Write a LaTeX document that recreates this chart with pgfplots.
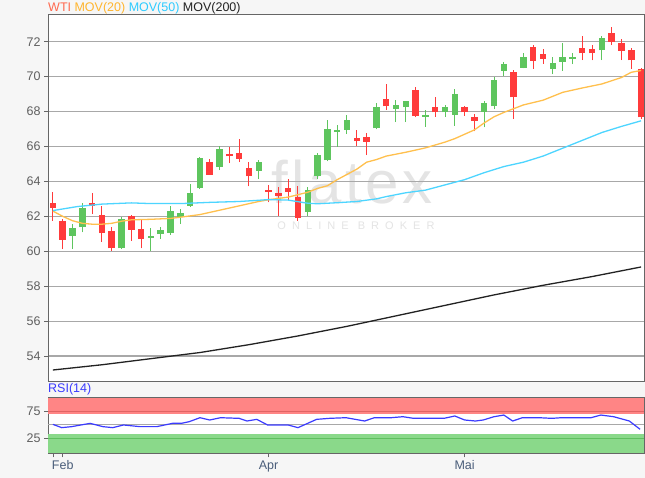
\documentclass[border=0pt]{standalone}
\usepackage{pgfplots}
\pgfplotsset{compat=1.18}
\usepackage{pgfplotstable}
\usepackage{fontspec}
\setmainfont{Liberation Sans}
\newfontfamily\wmbig[LetterSpace=6]{Liberation Sans}
\newfontfamily\wmsmall[LetterSpace=55]{Liberation Sans}

\definecolor{bggray}{HTML}{F6F6F6}
\definecolor{gridgray}{HTML}{A8A8A8}
\definecolor{framegray}{HTML}{666666}
\definecolor{labgray}{HTML}{606060}
\definecolor{xlab}{HTML}{4A5D7A}
\definecolor{candred}{HTML}{FF3B3B}
\definecolor{candgreen}{HTML}{5EC55E}
\definecolor{ma20}{HTML}{FFC04D}
\definecolor{ma50}{HTML}{4DD5FF}
\definecolor{ma200}{HTML}{222222}
\definecolor{legwti}{HTML}{FF6A50}
\definecolor{leg20}{HTML}{FFB52E}
\definecolor{leg50}{HTML}{2ECBFF}
\definecolor{rsiblue}{HTML}{3B3BFF}
\definecolor{rsired}{HTML}{FF8585}
\definecolor{rsiredline}{HTML}{E06464}
\definecolor{rsigreen}{HTML}{8AD98A}
\definecolor{rsigreenline}{HTML}{5FBF5F}
\definecolor{wmgray}{HTML}{E4E4E4}

% candles: index, open, high, low, close
\pgfplotstableread{
i o h l c
2 60.88 61.56 60.12 61.33
3 61.37 62.77 61.08 62.46
7 60.17 61.94 60.12 61.85
10 60.77 61.33 60.02 60.87
11 60.98 61.40 60.70 61.20
12 61.05 62.57 60.95 62.30
13 61.97 62.40 61.55 62.18
14 62.60 63.88 62.54 63.35
15 63.60 65.42 63.56 65.33
17 64.81 66.00 64.65 65.87
21 64.62 65.23 64.13 65.10
26 62.27 63.67 62.04 63.48
27 64.29 65.60 64.15 65.50
28 65.21 67.52 65.15 66.98
29 66.82 67.23 65.98 66.92
30 66.94 67.80 66.71 67.52
33 67.03 68.48 66.98 68.25
35 68.15 68.67 67.39 68.40
36 68.25 68.60 67.39 68.59
38 67.71 68.10 67.14 67.83
40 67.96 68.38 67.68 68.25
41 67.83 69.30 67.20 69.00
44 68.00 68.62 67.09 68.47
45 68.30 69.97 68.12 69.83
46 70.33 70.81 70.06 70.73
48 70.52 71.38 70.48 71.11
51 70.46 71.12 70.15 70.80
52 70.86 71.94 70.34 71.12
53 71.03 71.37 70.72 71.12
56 71.50 72.32 70.95 72.23
}\upcandles

\pgfplotstableread{
i o h l c
0 62.77 63.38 61.75 62.48
1 61.75 61.85 60.12 60.65
4 62.77 63.35 62.13 62.58
5 62.08 62.62 60.54 61.04
6 61.17 61.40 60.02 60.17
8 62.00 62.05 60.60 61.23
9 61.27 61.85 60.17 60.69
16 65.10 65.29 64.37 64.38
18 65.58 65.96 65.04 65.44
19 65.62 66.44 65.10 65.29
20 64.75 65.10 63.71 64.29
22 63.50 63.80 62.80 63.40
23 63.35 63.67 62.04 63.19
24 63.63 64.15 62.90 63.38
25 63.13 63.71 61.75 61.90
31 66.46 66.94 66.02 66.31
32 66.56 66.79 65.50 66.27
34 68.72 69.58 68.10 68.29
37 69.24 69.43 67.68 67.77
39 68.25 68.82 67.71 67.96
42 68.25 68.34 67.77 67.96
43 67.68 67.87 66.86 67.45
47 70.24 70.37 67.57 68.81
49 71.67 71.82 70.46 70.90
50 71.28 71.56 70.74 71.03
54 71.66 72.32 70.95 71.33
55 71.56 71.81 70.93 71.33
57 72.51 72.84 71.81 72.00
58 71.94 72.13 70.95 71.47
59 71.52 71.66 70.46 70.93
60 70.42 70.51 67.56 67.66
}\downcandles

\pgfplotstableread{
i v
0 62.30
1 62.00
2 61.75
3 61.60
4 61.55
5 61.55
6 61.60
7 61.72
8 61.80
10 61.83
12 61.88
13 61.95
15 62.10
17 62.35
19 62.60
21 62.85
22 62.95
24 63.10
26 63.38
27 63.60
28 63.75
29 64.10
31 64.70
32 65.10
33 65.25
34 65.45
36 65.67
38 65.92
40 66.25
41 66.45
43 66.95
44 67.35
45 67.70
46 67.95
48 68.38
50 68.65
52 69.10
54 69.35
56 69.58
58 69.95
59 70.25
60 70.35
}\movtwenty

\pgfplotstableread{
i v
0 62.33
2.5 62.56
5 62.70
8 62.77
10 62.73
13 62.73
16 62.80
19 62.85
21 62.92
22 62.96
24 62.93
26 62.75
27 62.72
29 62.78
31 62.85
33 63.00
34 63.13
36 63.35
38 63.50
40 63.80
42 64.10
44 64.50
46 64.85
48 65.10
50 65.45
52 65.90
54 66.35
56 66.80
58 67.15
60 67.47
}\movfifty

\pgfplotstableread{
i v
0 53.20
5 53.50
10 53.85
15 54.20
20 54.65
25 55.15
30 55.70
35 56.30
40 56.90
45 57.50
50 58.05
55 58.55
60 59.10
}\movtwohundred

\pgfplotstableread{
i v
0 51.2
0.9 45.0
1.9 46.9
3.8 53.1
5.1 46.9
6.1 45.0
7.2 50.0
8.9 46.9
10.6 46.9
12.2 53.1
13.1 53.1
13.9 56.2
15.0 63.7
16.0 59.4
17.1 63.7
19.0 62.5
19.8 57.5
20.8 60.6
21.9 50.0
24.0 50.0
25.0 45.0
26.9 60.6
28.2 62.5
29.9 63.7
31.8 57.5
32.8 63.7
34.5 63.7
35.7 65.6
36.8 62.5
39.9 62.5
41.0 66.9
42.0 59.4
43.1 57.5
43.9 59.4
45.0 65.6
46.0 68.7
46.9 57.5
47.9 63.7
49.6 63.7
50.9 62.5
51.9 63.7
54.9 63.7
55.9 68.7
57.2 65.6
58.8 57.5
59.9 41.9
}\rsi

\begin{document}
\begin{tikzpicture}[x=1pt,y=1pt]
\fill[bggray] (0,0) rectangle (645,-478);
\path[use as bounding box] (0,0) rectangle (645,-478);
\fill[white] (48,-15) rectangle (644,-381);
\fill[white] (48,-397.7) rectangle (644,-453.3);

% watermark
\node[text=wmgray, font=\wmbig\fontsize{60}{60}\selectfont] at (352,-182) {flatex};
\node[text=wmgray, font=\wmsmall\fontsize{11}{11}\selectfont] at (356,-226) {ONLINE BROKER};

% title line
\node[anchor=west, inner sep=0pt, font=\fontsize{12.5}{14}\selectfont] at (48,-8)
  {\textcolor{legwti}{WTI} \textcolor{leg20}{MOV(20)} \textcolor{leg50}{MOV(50)} \textcolor{ma200}{MOV(200)}};
\node[anchor=west, inner sep=0pt, text=rsiblue, font=\fontsize{12.5}{14}\selectfont] at (48,-389) {RSI(14)};

\begin{axis}[
    at={(48pt,-15pt)}, anchor=north west,
    width=596pt, height=366pt, scale only axis,
    xmin=-0.5, xmax=60.3, ymin=52.57, ymax=73.53,
    xtick=\empty,
    ytick={54,56,...,72}, ytick pos=left,
    ymajorgrids, grid style={draw=gridgray, line width=1.1pt},
    axis line style={draw=framegray, line width=1pt},
    tick align=outside, major tick length=4pt,
    tick style={draw=framegray, line width=0.8pt},
    yticklabel style={text=labgray, font=\fontsize{12.5}{14}\selectfont},
    /pgf/number format/assume math mode=true,
    candle/.style={draw=none, mark=none, forget plot,
        error bars/y dir=plus, error bars/y explicit, error bars/error mark=none},
]
% wicks
\addplot[candle, error bars/error bar style={draw=candgreen, line width=1pt}]
    table[x=i, y=l, y error plus expr=\thisrow{h}-\thisrow{l}] {\upcandles};
\addplot[candle, error bars/error bar style={draw=candred, line width=1pt}]
    table[x=i, y=l, y error plus expr=\thisrow{h}-\thisrow{l}] {\downcandles};
% bodies
\addplot[candle, error bars/error bar style={draw=candgreen, line width=6.5pt}]
    table[x=i, y=o, y error plus expr=\thisrow{c}-\thisrow{o}] {\upcandles};
\addplot[candle, error bars/error bar style={draw=candred, line width=6.5pt}]
    table[x=i, y=c, y error plus expr=\thisrow{o}-\thisrow{c}] {\downcandles};
% moving averages
\addplot[ma20, line width=1.3pt, mark=none] table[x=i, y=v] {\movtwenty};
\addplot[ma50, line width=1.3pt, mark=none] table[x=i, y=v] {\movfifty};
\addplot[ma200, line width=1.3pt, mark=none] table[x=i, y=v] {\movtwohundred};
\end{axis}

\begin{axis}[
    at={(48pt,-397.7pt)}, anchor=north west,
    width=596pt, height=55.6pt, scale only axis,
    xmin=-0.5, xmax=60.3, ymin=-3.2, ymax=101.3,
    xtick={0,1,22,42}, xticklabels={{},Feb,Apr,Mai}, xtick pos=bottom,
    ytick={25,75}, ytick pos=left,
    axis line style={draw=framegray, line width=1pt},
    tick align=outside, major tick length=4pt,
    tick style={draw=framegray, line width=0.8pt},
    yticklabel style={text=labgray, font=\fontsize{12.5}{14}\selectfont},
    xticklabel style={text=xlab, font=\fontsize{12.5}{14}\selectfont},
    /pgf/number format/assume math mode=true,
]
\addplot[draw=none, fill=rsired, forget plot] coordinates {(-0.5,71) (60.3,71) (60.3,101.3) (-0.5,101.3)} -- cycle;
\addplot[draw=none, fill=rsigreen, forget plot] coordinates {(-0.5,-3.2) (60.3,-3.2) (60.3,34) (-0.5,34)} -- cycle;
\addplot[rsiredline, line width=1pt, forget plot] coordinates {(-0.5,75) (60.3,75)};
\addplot[rsigreenline, line width=1pt, forget plot] coordinates {(-0.5,25) (60.3,25)};
\addplot[gridgray, line width=1pt, forget plot] coordinates {(-0.5,50) (60.3,50)};
\addplot[rsiblue, line width=1.2pt, mark=none] table[x=i, y=v] {\rsi};
\end{axis}
\end{tikzpicture}
\end{document}
